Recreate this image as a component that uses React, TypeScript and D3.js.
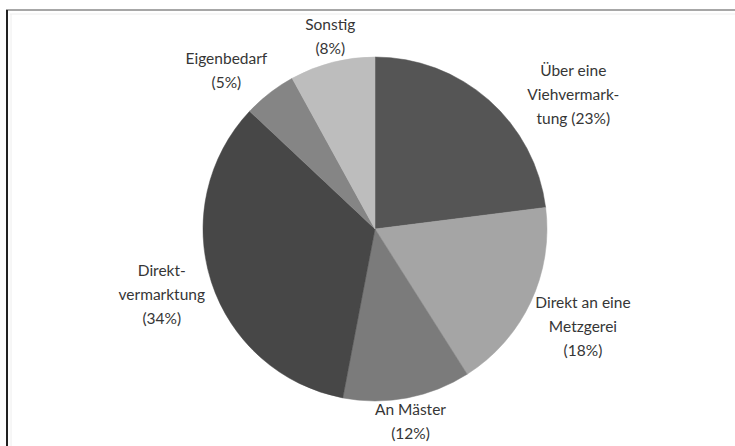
import React from "react";
import * as d3 from "d3";

// ---- data ----
const categories = [
  "Über eine Viehvermarktung",
  "Direkt an eine Metzgerei",
  "An Mäster",
  "Direktvermarktung",
  "Eigenbedarf",
  "Sonstig",
];
const values = [23, 18, 12, 34, 5, 8];
const labelLines = [
  ["Über eine", "Viehvermark-", "tung (23%)"],
  ["Direkt an eine", "Metzgerei", "(18%)"],
  ["An Mäster", "(12%)"],
  ["Direkt-", "vermarktung", "(34%)"],
  ["Eigenbedarf", "(5%)"],
  ["Sonstig", "(8%)"],
];

// ---- layout / style ----
const W = 735;
const H = 446;
const CX = 375;
const CY = 229;
const R = 172;
const LABEL_R = 200;
const LINE_H = 24;
const colors = ["#555555", "#a5a5a5", "#7b7b7b", "#474747", "#858585", "#bdbdbd"];
const labelNudge: [number, number][] = [
  [66, 21],
  [27, 18],
  [-2, 2],
  [-23, 9],
  [-26, 5],
  [5, 7],
];

export default function App() {
  const pie = d3
    .pie<number>()
    .sort(null)
    .value((d) => d)
    .startAngle(0)
    .endAngle(2 * Math.PI);
  const arcs = pie(values);
  const arc = d3.arc<d3.PieArcDatum<number>>().innerRadius(0).outerRadius(R);

  return (
    <svg
      width={W}
      height={H}
      style={{ position: "absolute", left: 0, top: 0, background: "#fff" }}
      fontFamily="Lato, 'Open Sans', sans-serif"
    >
      <rect x={0} y={0} width={W} height={H} fill="#fff" />
      {/* frame */}
      <line x1={6} y1={10} x2={W} y2={10} stroke="#8a8a8a" strokeWidth={1.5} />
      <line x1={7} y1={10} x2={7} y2={H} stroke="#222" strokeWidth={2} />
      <line x1={10} y1={14} x2={W} y2={14} stroke="#eee" strokeWidth={1} />
      <line x1={11} y1={14} x2={11} y2={H} stroke="#eee" strokeWidth={1} />
      <g transform={`translate(${CX},${CY})`}>
        {arcs.map((a, i) => (
          <path key={categories[i]} d={arc(a) || ""} fill={colors[i]} stroke={colors[i]} strokeWidth={0.5} />
        ))}
      </g>
      {arcs.map((a, i) => {
        const mid = (a.startAngle + a.endAngle) / 2;
        const x = CX + LABEL_R * Math.sin(mid) + labelNudge[i][0];
        const yMean = CY - LABEL_R * Math.cos(mid) + labelNudge[i][1];
        const lines = labelLines[i];
        const y0 = yMean - ((lines.length - 1) * LINE_H) / 2;
        return (
          <text key={categories[i]} x={x} y={y0} textAnchor="middle" fontSize={15.5} fill="#363636">
            {lines.map((l, j) => (
              <tspan key={j} x={x} y={y0 + j * LINE_H}>
                {l}
              </tspan>
            ))}
          </text>
        );
      })}
    </svg>
  );
}
